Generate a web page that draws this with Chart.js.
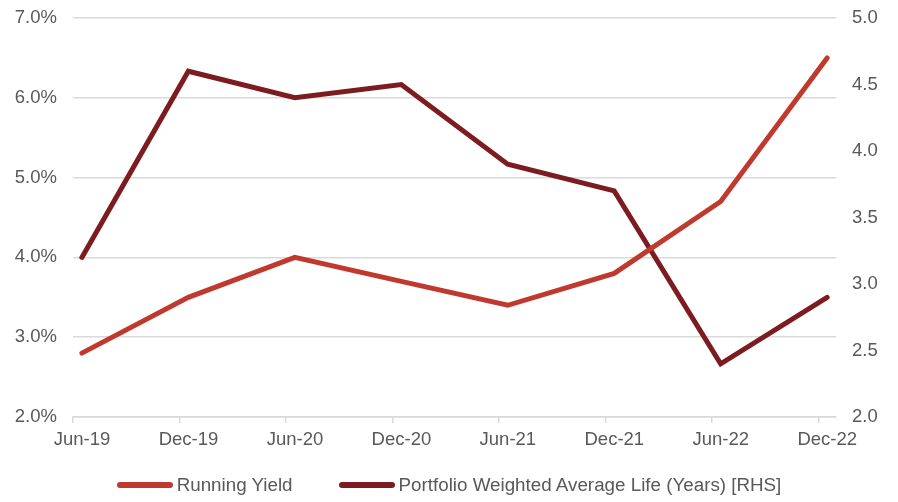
<!DOCTYPE html>
<html>
<head>
<meta charset="utf-8">
<script src="https://cdn.jsdelivr.net/npm/chart.js@4.4.1/dist/chart.umd.min.js"></script>
<style>
  html, body { margin: 0; padding: 0; background: #fff; }
  #wrap { position: relative; width: 898px; height: 502px; }
  #legend {
    position: absolute; left: 0; right: 0; top: 474px;
    display: flex; justify-content: center; gap: 46px;
    font-family: "Liberation Sans", Arial, sans-serif; font-size: 18.8px; color: #595959;
  }
  #legend .item { display: flex; align-items: center; gap: 4px; }
  #legend .swatch { width: 56px; height: 6px; border-radius: 3px; }
</style>
</head>
<body>
<div id="wrap">
  <canvas id="yieldChart" width="898" height="502"></canvas>
  <div id="legend"></div>
</div>
<script>
// ===== Running yield vs portfolio WAL =====
const periods = ['Jun-19', 'Dec-19', 'Jun-20', 'Dec-20', 'Jun-21', 'Dec-21', 'Jun-22', 'Dec-22']
const runningYield = [2.8, 3.5, 4.0, 3.7, 3.4, 3.8, 4.7, 6.5]      // %
const weightedAvgLife = [3.2, 4.6, 4.4, 4.5, 3.9, 3.7, 2.4, 2.9]   // years, RHS
const yieldTicks = [2, 3, 4, 5, 6, 7]
const walTicks = [2.0, 2.5, 3.0, 3.5, 4.0, 4.5, 5.0]

const RED = '#c0392f'
const DARK_RED = '#7d1c20'
const GRID = '#d9d9d9'
const TEXT = '#595959'
const FONT = { family: '"Liberation Sans", Arial, sans-serif', size: 18.5 }

// months since Jun-19, points sit mid-month on a date-style axis
const MONTHS = { Jan: 0, Feb: 1, Mar: 2, Apr: 3, May: 4, Jun: 5, Jul: 6, Aug: 7, Sep: 8, Oct: 9, Nov: 10, Dec: 11 }
function monthIndex(label) {
  const [m, y] = label.split('-')
  return (Number(y) - 19) * 12 + MONTHS[m] - MONTHS.Jun
}
const xPos = periods.map(p => monthIndex(p) + 0.5)
const lastMonth = monthIndex(periods[periods.length - 1])

const toPoints = vals => vals.map((v, i) => ({ x: xPos[i], y: v }))

// fixed side widths, no extra room reserved for the top/bottom tick labels
const fixWidth = w => s => { s.width = w; s.paddingTop = 0; s.paddingBottom = 0 }

const ctx = document.getElementById('yieldChart').getContext('2d')
const chart = new Chart(ctx, {
  type: 'line',
  data: {
    datasets: [
      {
        label: 'Running Yield',
        data: toPoints(runningYield),
        yAxisID: 'yLeft',
        borderColor: RED,
        borderWidth: 5,
        borderCapStyle: 'round',
        borderJoinStyle: 'miter',
        pointRadius: 0,
        tension: 0
      },
      {
        label: 'Portfolio Weighted Average Life (Years) [RHS]',
        data: toPoints(weightedAvgLife),
        yAxisID: 'yRight',
        borderColor: DARK_RED,
        borderWidth: 5,
        borderCapStyle: 'round',
        borderJoinStyle: 'miter',
        pointRadius: 0,
        tension: 0
      }
    ]
  },
  options: {
    responsive: false,
    animation: false,
    layout: { padding: { top: 18, left: 0, right: 0, bottom: 0 } },
    plugins: {
      legend: { display: false },
      tooltip: { enabled: false }
    },
    scales: {
      x: {
        type: 'linear',
        min: 0,
        max: lastMonth + 1,
        border: { color: GRID, width: 1.5 },
        grid: { drawOnChartArea: false, color: GRID, lineWidth: 1.5, tickLength: 6 },
        ticks: {
          stepSize: 6,
          includeBounds: false,
          autoSkip: false,
          maxRotation: 0,
          padding: 6,
          labelOffset: 9,
          color: TEXT,
          font: FONT,
          callback: (v) => periods[Math.round(v / 6)] || ''
        },
        afterFit: s => { s.height = 85 }
      },
      yLeft: {
        position: 'left',
        min: yieldTicks[0],
        max: yieldTicks[yieldTicks.length - 1],
        border: { display: false },
        grid: { color: GRID, lineWidth: 1.5, drawTicks: false },
        ticks: {
          stepSize: 1,
          padding: 16,
          color: TEXT,
          font: FONT,
          callback: v => v.toFixed(1) + '%'
        },
        afterFit: fixWidth(73)
      },
      yRight: {
        position: 'right',
        min: walTicks[0],
        max: walTicks[walTicks.length - 1],
        border: { display: false },
        grid: { drawOnChartArea: false, drawTicks: false },
        ticks: {
          stepSize: 0.5,
          padding: 16,
          color: TEXT,
          font: FONT,
          callback: v => v.toFixed(1)
        },
        afterFit: fixWidth(62)
      }
    }
  }
})

// legend below the plot
const legendEl = document.getElementById('legend')
chart.data.datasets.forEach(ds => {
  const item = document.createElement('div')
  item.className = 'item'
  item.innerHTML = `<span class="swatch" style="background:${ds.borderColor}"></span><span>${ds.label}</span>`
  legendEl.appendChild(item)
})
</script>
</body>
</html>
